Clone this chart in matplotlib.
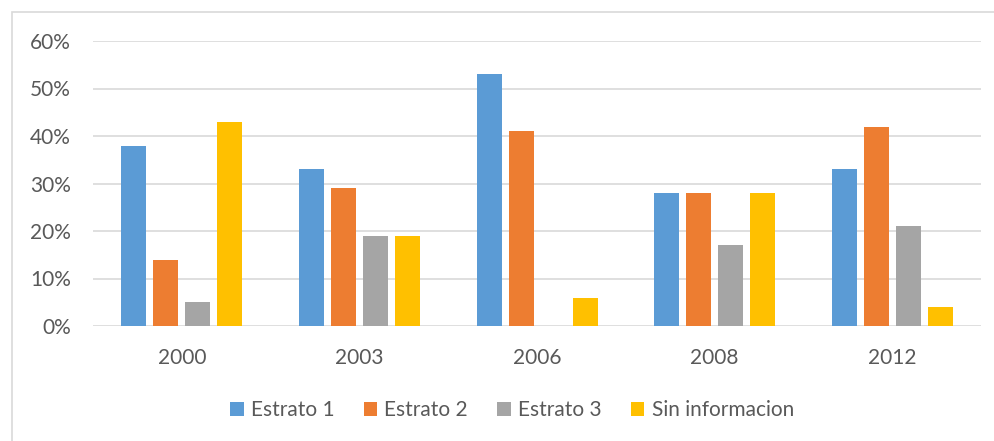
import numpy as np
import matplotlib.pyplot as plt
from matplotlib.patches import Rectangle
from matplotlib.ticker import PercentFormatter

plt.rcParams['font.family'] = ['Lato', 'DejaVu Sans']

# data (percent)
years = ["2000", "2003", "2006", "2008", "2012"]
series = ["Estrato 1", "Estrato 2", "Estrato 3", "Sin informacion"]
estrato1 = [38, 33, 53, 28, 33]
estrato2 = [14, 29, 41, 28, 42]
estrato3 = [5, 19, 0, 17, 21]
sin_info = [43, 19, 6, 28, 4]
colors = ["#5B9BD5", "#ED7D31", "#A5A5A5", "#FFC000"]

text_col = "#595959"
grid_col = "#D9D9D9"

fig = plt.figure(figsize=(9.94, 4.41), dpi=100)
ax = fig.add_axes([93/994, 1 - 326/441, (981 - 93)/994, (326 - 41)/441])

# outer chart border (cut off on right and bottom like the screenshot)
fig.patches.append(Rectangle((12/994, -0.2), 1.2, 1 - 12/441 + 0.2,
                             transform=fig.transFigure, fill=False,
                             edgecolor=grid_col, linewidth=1.2))

x = np.arange(len(years))
w = 25 / 177.6
step = 32 / 177.6
for i, (name, vals) in enumerate(zip(series, [estrato1, estrato2, estrato3, sin_info])):
    ax.bar(x + (i - 1.5) * step, vals, width=w, color=colors[i], label=name, zorder=3)

ax.set_xlim(-0.5, len(years) - 0.5)
ax.set_ylim(0, 60)
ax.set_yticks(range(0, 61, 10))
ax.yaxis.set_major_formatter(PercentFormatter(decimals=0))
ax.set_xticks(x)
ax.set_xticklabels(years)
ax.grid(axis="y", color=grid_col, linewidth=1.2, zorder=0)
for s in ax.spines.values():
    s.set_visible(False)
ax.tick_params(length=0, labelsize=15, colors=text_col)
ax.tick_params(axis="y", pad=16)
ax.tick_params(axis="x", pad=16)

ax.legend(loc="center", bbox_to_anchor=(512/994, 1 - 410/441),
          bbox_transform=fig.transFigure, ncol=4, frameon=False,
          fontsize=15, labelcolor=text_col, handlelength=0.65,
          handleheight=0.65, handletextpad=0.35, columnspacing=1.4)

fig.savefig("out.png", dpi=100)
